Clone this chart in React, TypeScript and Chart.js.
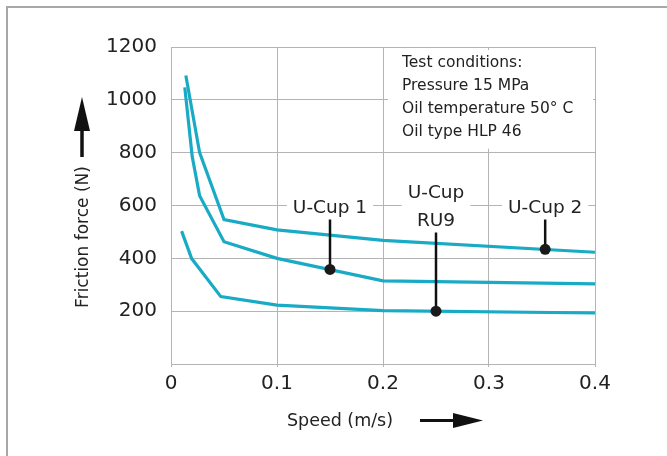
import React, { useEffect, useRef } from "react";
import { Chart, registerables } from "chart.js";

Chart.register(...registerables);

// ---- data ----
const uCup2Speed = [0.014, 0.027, 0.05, 0.1, 0.2, 0.4];
const uCup2Force = [1092, 800, 547, 508, 468, 423];

const uCup1Speed = [0.013, 0.02, 0.027, 0.05, 0.1, 0.2, 0.4];
const uCup1Force = [1047, 785, 637, 463, 400, 315, 303];

const ru9Speed = [0.01, 0.0195, 0.047, 0.1, 0.2, 0.4];
const ru9Force = [503, 399, 255, 223, 202, 193];

const labelTexts = [["U-Cup 1"], ["U-Cup", "RU9"], ["U-Cup 2"]];
const markerSpeed = [0.15, 0.25, 0.353];
const markerForce = [358, 200, 434];

const conditions = [
  "Test conditions:",
  "Pressure 15 MPa",
  "Oil temperature 50\u00B0 C",
  "Oil type HLP 46",
];

const xTitle = "Speed (m/s)";
const yTitle = "Friction force (N)";

const LINE = "#19abc5";
const GRID = "#b4b4b4";
const TXT = "#222222";
const FONT = "'DejaVu Sans', sans-serif";

const toPts = (xs: number[], ys: number[]) => xs.map((x, i) => ({ x, y: ys[i] }));

const overlay = {
  id: "overlay",
  beforeDatasetsDraw(chart: any) {
    const ctx = chart.ctx;
    const xs = chart.scales.x;
    const ys = chart.scales.y;
    ctx.save();
    ctx.fillStyle = "#ffffff";
    // conditions box background
    const bl = xs.getPixelForValue(0.2) + 5;
    const br = xs.getPixelForValue(0.4) - 2;
    const bt = ys.getPixelForValue(1200) + 3;
    const bb = ys.getPixelForValue(800) - 4;
    ctx.fillRect(bl, bt, br - bl, bb - bt);
    // label backgrounds
    ctx.font = `18.5px ${FONT}`;
    const gy = ys.getPixelForValue(600);
    labelTexts.forEach((lines, i) => {
      const cx = xs.getPixelForValue(markerSpeed[i]);
      const w = Math.max(...lines.map((l) => ctx.measureText(l).width)) + 12;
      ctx.fillRect(cx - w / 2, gy - 14, w, 28);
    });
    ctx.restore();
  },
  afterDatasetsDraw(chart: any) {
    const ctx = chart.ctx;
    const xs = chart.scales.x;
    const ys = chart.scales.y;
    ctx.save();
    // conditions text
    ctx.fillStyle = TXT;
    ctx.font = `15.5px ${FONT}`;
    ctx.textAlign = "left";
    ctx.textBaseline = "middle";
    const tx = xs.getPixelForValue(0.2) + 19;
    const ty = ys.getPixelForValue(1200) + 16;
    conditions.forEach((c, i) => ctx.fillText(c, tx, ty + i * 23));

    // labels, leaders, dots
    const gy = ys.getPixelForValue(600);
    ctx.font = `18.5px ${FONT}`;
    ctx.textAlign = "center";
    labelTexts.forEach((lines, i) => {
      const cx = xs.getPixelForValue(markerSpeed[i]);
      const cy = ys.getPixelForValue(markerForce[i]);
      let top;
      if (lines.length === 1) {
        ctx.fillText(lines[0], cx, gy + 3);
        top = gy + 14;
      } else {
        ctx.fillText(lines[0], cx, gy - 12);
        ctx.fillText(lines[1], cx, gy + 16);
        top = gy + 27;
      }
      ctx.strokeStyle = "#111111";
      ctx.lineWidth = 2.5;
      ctx.beginPath();
      ctx.moveTo(cx, top);
      ctx.lineTo(cx, cy);
      ctx.stroke();
      ctx.fillStyle = "#1a1a1a";
      ctx.beginPath();
      ctx.arc(cx, cy, 5.5, 0, Math.PI * 2);
      ctx.fill();
      ctx.fillStyle = TXT;
    });
    ctx.restore();
  },
  afterDraw(chart: any) {
    const ctx = chart.ctx;
    ctx.save();
    // outer frame
    ctx.strokeStyle = "#a8a8a8";
    ctx.lineWidth = 2;
    ctx.strokeRect(7, 7, 720, 520);

    ctx.fillStyle = TXT;
    // y title
    ctx.save();
    ctx.translate(84, 237);
    ctx.rotate(-Math.PI / 2);
    ctx.font = `17px ${FONT}`;
    ctx.textAlign = "center";
    ctx.textBaseline = "middle";
    ctx.fillText(yTitle, 0, 0);
    ctx.restore();
    // y arrow
    ctx.fillStyle = "#111111";
    ctx.strokeStyle = "#111111";
    ctx.lineWidth = 3.5;
    ctx.beginPath();
    ctx.moveTo(82, 157);
    ctx.lineTo(82, 126);
    ctx.stroke();
    ctx.beginPath();
    ctx.moveTo(82, 97);
    ctx.lineTo(74, 131);
    ctx.lineTo(90, 131);
    ctx.closePath();
    ctx.fill();

    // x title
    ctx.fillStyle = TXT;
    ctx.font = `17.5px ${FONT}`;
    ctx.textAlign = "center";
    ctx.textBaseline = "middle";
    ctx.fillText(xTitle, 340, 421);
    // x arrow
    ctx.fillStyle = "#111111";
    ctx.lineWidth = 3;
    ctx.beginPath();
    ctx.moveTo(420, 420.5);
    ctx.lineTo(456, 420.5);
    ctx.stroke();
    ctx.beginPath();
    ctx.moveTo(483, 420.5);
    ctx.lineTo(453, 413);
    ctx.lineTo(453, 428);
    ctx.closePath();
    ctx.fill();
    ctx.restore();
  },
};

export default function App() {
  const ref = useRef<HTMLCanvasElement | null>(null);
  useEffect(() => {
    if (!ref.current) return;
    const mk = (xs: number[], ys: number[]) => ({
      data: toPts(xs, ys),
      borderColor: LINE,
      backgroundColor: LINE,
      borderWidth: 3.2,
      pointRadius: 0,
      tension: 0,
      fill: false,
    });
    const chart = new Chart(ref.current, {
      type: "line",
      data: {
        datasets: [
          { label: "U-Cup 2", ...mk(uCup2Speed, uCup2Force) },
          { label: "U-Cup 1", ...mk(uCup1Speed, uCup1Force) },
          { label: "U-Cup RU9", ...mk(ru9Speed, ru9Force) },
        ],
      },
      options: {
        animation: false,
        responsive: false,
        maintainAspectRatio: false,
        layout: { padding: { left: 0, top: 47, right: 72, bottom: 0 } },
        plugins: { legend: { display: false }, tooltip: { enabled: false } },
        scales: {
          x: {
            type: "linear",
            min: 0,
            max: 0.4,
            ticks: {
              stepSize: 0.1,
              padding: 5,
              color: TXT,
              font: { family: FONT, size: 20 },
              callback: (v: any) => (Number(v) === 0 ? "0" : Number(v).toFixed(1)),
            },
            grid: { color: GRID, lineWidth: 1, drawTicks: true, tickLength: 3, tickColor: GRID },
            border: { display: true, color: GRID, width: 1 },
            afterFit: (s: any) => {
              s.height = 92;
            },
          },
          y: {
            min: 0,
            max: 1200,
            ticks: {
              stepSize: 200,
              padding: 14,
              color: TXT,
              font: { family: FONT, size: 20 },
              callback: (v: any) => (Number(v) === 0 ? "" : String(v)),
            },
            grid: { color: GRID, lineWidth: 1, drawTicks: false },
            border: { display: true, color: GRID, width: 1 },
            afterFit: (s: any) => {
              s.width = 171;
            },
          },
        },
      },
      plugins: [overlay],
    } as any);
    return () => chart.destroy();
  }, []);
  return (
    <div style={{ position: "fixed", left: 0, top: 0, width: 667, height: 456, background: "#fff" }}>
      <canvas ref={ref} width={667} height={456} style={{ width: 667, height: 456 }} />
    </div>
  );
}
